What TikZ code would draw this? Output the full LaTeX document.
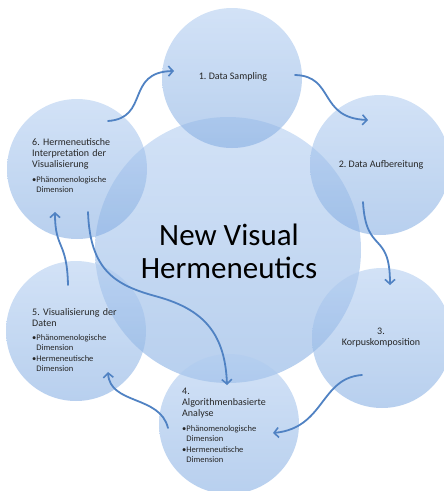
\documentclass[tikz,border=0pt]{standalone}
\usepackage{fontspec}
\setmainfont{Carlito}
\usetikzlibrary{arrows.meta}
\setlength{\parindent}{0pt}
\frenchspacing

\definecolor{bubbletop}{RGB}{178,205,240}
\definecolor{bubblebot}{RGB}{132,173,226}
\definecolor{flow}{RGB}{80,130,195}
\definecolor{ink}{RGB}{38,38,38}

\newcommand{\stagesize}{\fontsize{10}{11}\selectfont}
\newcommand{\pointsize}{\fontsize{8.5}{9.8}\selectfont}
\newcommand{\pointgap}{\phantom{\textbullet}}

\tikzset{
  bubble/.style={circle, inner sep=0pt, minimum size=#1, draw=none,
    top color=bubbletop, bottom color=bubblebot, fill opacity=0.58},
  stagelabel/.style={inner sep=0pt, text=ink, font=\stagesize, align=center},
  stagelist/.style={inner sep=0pt, text=ink, anchor=north west,
    text width=100pt, align=left},
  flowarrow/.style={draw=flow, line width=1.8pt, line cap=round,
    -{Straight Barb[length=4.5pt,width=10pt,line width=1.6pt]}}
}

\begin{document}
\begin{tikzpicture}[x=1pt,y=-1pt]
\useasboundingbox (0,0) rectangle (444,491);
\clip (0,0) rectangle (444,491);

% hub and the six stages around it
\node[bubble=266pt] (hub) at (228,250) {};
\node[bubble=140pt] (c1) at (232,78) {};
\node[bubble=140pt] (c2) at (380,165) {};
\node[bubble=140pt] (c3) at (382,338) {};
\node[bubble=140pt] (c4) at (229,424) {};
\node[bubble=140pt] (c5) at (76,331) {};
\node[bubble=140pt] (c6) at (77,169) {};

% texts
\node[inner sep=0pt, align=center, font=\fontsize{31}{33}\selectfont, text=black]
  (title) at (229,251) {New Visual\\Hermeneutics};

\node[stagelabel] (t1) at (233,77) {1. Data Sampling};
\node[stagelabel] (t2) at (381,165) {2. Data Aufbereitung};
\node[stagelabel] (t3) at (381,338) {3.\\Korpuskomposition};

\node[stagelist] (t4) at (182,388) {\stagesize 4.\\Algorithmenbasierte\\Analyse\par
  \vspace{5pt}\pointsize \textbullet Phänomenologische\\\pointgap Dimension\\[1.5pt]
  \textbullet Hermeneutische\\\pointgap Dimension\par};
\node[stagelist] (t5) at (32,308) {\stagesize 5. Visualisierung der\\Daten\par
  \vspace{5pt}\pointsize \textbullet Phänomenologische\\\pointgap Dimension\\[1pt]
  \textbullet Hermeneutische\\\pointgap Dimension\par};
\node[stagelist] (t6) at (32,138) {\stagesize 6. Hermeneutische\\Interpretation der\\Visualisierung\par
  \vspace{6pt}\pointsize \textbullet Phänomenologische\\\pointgap Dimension\par};

% connector ends
\coordinate (s61) at (108,121);  \coordinate (e61) at (174,71);
\coordinate (s12) at (295,75);   \coordinate (e12) at (368,120);
\coordinate (s23) at (363,202);  \coordinate (e23) at (390,285);
\coordinate (s34) at (362,375);  \coordinate (e34) at (273,433);
\coordinate (s45) at (168,428);  \coordinate (e45) at (108,372);
\coordinate (s56) at (68,285);   \coordinate (e56) at (55,212);
\coordinate (s64) at (88,212);   \coordinate (m64) at (155,296);
\coordinate (e64) at (227,385);

% cycle of arrows
\draw[flowarrow] (s61) .. controls (150,118) and (125,72) .. (e61);
\draw[flowarrow] (s12) .. controls (335,76) and (318,118) .. (e12);
\draw[flowarrow] (s23) .. controls (366,255) and (390,230) .. (e23);
\draw[flowarrow] (s34) .. controls (320,378) and (325,428) .. (e34);
\draw[flowarrow] (s45) .. controls (160,395) and (110,405) .. (e45);
\draw[flowarrow] (s56) .. controls (67,240) and (55,250) .. (e56);
\draw[flowarrow] (s64) .. controls (90,270) and (115,285) .. (m64)
  .. controls (200,308) and (225,330) .. (e64);
\end{tikzpicture}
\end{document}
